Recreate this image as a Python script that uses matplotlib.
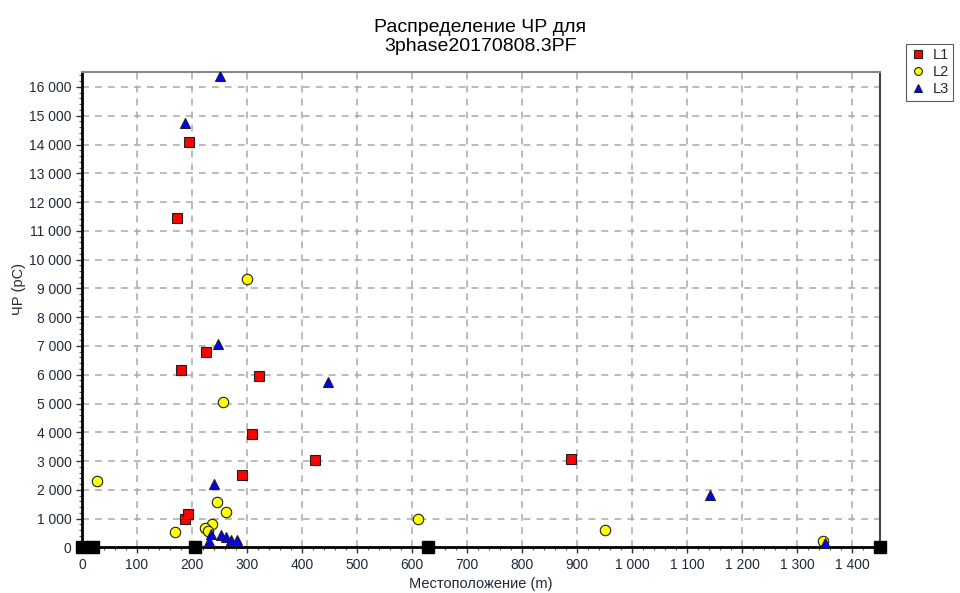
import matplotlib
matplotlib.use("Agg")
import matplotlib.pyplot as plt
from matplotlib.ticker import MultipleLocator, FuncFormatter

plt.rcParams['font.family'] = ['Liberation Sans', 'DejaVu Sans']

# Точки L1 (красные квадраты)
l1_x = [173, 194, 180, 226, 321, 308, 424, 888, 291, 187, 192]
l1_y = [11450, 14090, 6180, 6800, 5960, 3930, 3030, 3060, 2510, 975, 1150]

# Точки L2 (жёлтые круги)
l2_x = [27, 300, 256, 245, 262, 236, 223, 229, 169, 610, 950, 1347]
l2_y = [2310, 9340, 5050, 1590, 1220, 800, 685, 580, 525, 975, 595, 233]

# Точки L3 (синие треугольники)
l3_x = [251, 187, 247, 447, 1142, 240, 231, 234, 252, 261, 270, 281, 1350]
l3_y = [16380, 14760, 7070, 5760, 1820, 2200, 230, 465, 430, 370, 257, 257, 140]

# Муфты / концы кабеля на оси
joint_x = [0, 20, 205, 629, 1450]
joint_y = [0, 0, 0, 0, 0]

x_max = 1450
y_max = 16520

text_color = '#1f2a3a'


def thousands(v, pos):
    return '{:,}'.format(int(v)).replace(',', ' ')


fig = plt.figure(figsize=(9.6, 5.93), dpi=100)
ax = fig.add_axes([82 / 960, 45.6 / 593, 798 / 960, 475.4 / 593])

ax.plot(l1_x, l1_y, 's', color='#ff0000', markeredgecolor='#202020', markeredgewidth=0.8,
        markersize=7, linestyle='none', label='L1', zorder=3)
ax.plot(l2_x, l2_y, 'o', color='#ffff00', markeredgecolor='#202020', markeredgewidth=0.8,
        markersize=7.5, linestyle='none', label='L2', zorder=3)
ax.plot(l3_x, l3_y, '^', color='#0000ff', markeredgecolor='#202020', markeredgewidth=0.8,
        markersize=7, linestyle='none', label='L3', zorder=4)
ax.plot(joint_x, joint_y, 's', color='black', markersize=8, linestyle='none',
        clip_on=False, zorder=5)

ax.set_xlim(0, x_max)
ax.set_ylim(0, y_max)

ax.xaxis.set_major_locator(MultipleLocator(100))
ax.xaxis.set_minor_locator(MultipleLocator(20))
ax.yaxis.set_major_locator(MultipleLocator(1000))
ax.yaxis.set_minor_locator(MultipleLocator(200))
ax.xaxis.set_major_formatter(FuncFormatter(thousands))
ax.yaxis.set_major_formatter(FuncFormatter(thousands))

ax.tick_params(which='major', length=4.5, width=1, color='#333333', labelsize=10,
               labelcolor=text_color, pad=3)
ax.tick_params(which='minor', length=2.5, width=0.8, color='#555555')

ax.grid(True, which='major', linestyle=(0, (4.5, 4)), color='#a8a8a8', linewidth=1.1)
ax.set_axisbelow(True)

# Рамка
ax.spines['left'].set_linewidth(2)
ax.spines['bottom'].set_linewidth(2)
ax.spines['left'].set_color('black')
ax.spines['bottom'].set_color('black')
ax.spines['top'].set_linewidth(1.5)
ax.spines['top'].set_color('#888888')
ax.spines['right'].set_linewidth(1.5)
ax.spines['right'].set_color('#444444')

fig.text(480 / 960, 1 - 37 / 593, 'Распределение ЧР для\n3phase20170808.3PF',
         ha='center', va='center', fontsize=14, linespacing=1.2)
fig.text(481 / 960, 1 - 584 / 593, 'Местоположение (m)', ha='center', va='center',
         fontsize=10.5, color=text_color)
fig.text(19 / 960, 1 - 289 / 593, 'ЧР (pC)', ha='center', va='center', rotation=90,
         fontsize=10.5, color=text_color)

leg = fig.legend(loc='upper left', bbox_to_anchor=(906 / 960, 1 - 44 / 593),
                 fontsize=10.5, frameon=True, fancybox=False, borderpad=0.3,
                 handlelength=1.0, handletextpad=0.5, labelspacing=0.2,
                 markerscale=0.75, borderaxespad=0)
leg.get_frame().set_edgecolor('#333333')
leg.get_frame().set_linewidth(0.8)
for t in leg.get_texts():
    t.set_color(text_color)

fig.savefig('out.png', dpi=100)
